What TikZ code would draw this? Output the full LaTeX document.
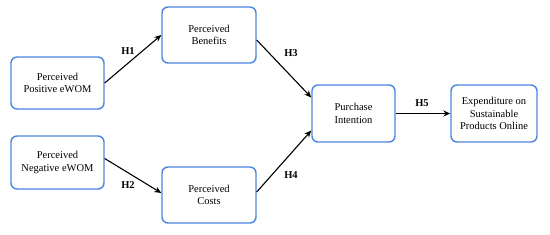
\documentclass[tikz,border=0pt]{standalone}
\usepackage{fontspec}
\setmainfont{Liberation Serif}
\usetikzlibrary{arrows.meta}
\definecolor{boxblue}{RGB}{74,134,222}
\begin{document}
\begin{tikzpicture}[x=1pt,y=-1pt,
  box/.style={draw=boxblue,line width=1.4pt,rounded corners=6pt,align=center,font=\fontsize{10.5}{12.5}\selectfont,inner sep=0pt},
  conn/.style={-{Stealth[length=7pt,width=6pt]},line width=1.1pt},
  hlab/.style={font=\bfseries\fontsize{10.5}{12}\selectfont}]
\useasboundingbox (0,0) rectangle (550,235);
\node[box,minimum width=93pt,minimum height=52pt] (pos) at (57.5,83) {Perceived\\Positive eWOM};
\node[box,minimum width=93pt,minimum height=53pt] (neg) at (57.5,162.5) {Perceived\\Negative eWOM};
\node[box,minimum width=94pt,minimum height=56pt] (ben) at (209,35) {Perceived\\Benefits};
\node[box,minimum width=94pt,minimum height=56pt] (cost) at (209,195) {Perceived\\Costs};
\node[box,minimum width=83pt,minimum height=57pt] (pi) at (353.5,113.5) {Purchase\\Intention};
\node[box,minimum width=86pt,minimum height=57pt] (exp) at (494,113.5) {Expenditure on\\Sustainable\\Products Online};
\draw[conn] (pos.east) -- (ben.west);
\draw[conn] ([yshift=4pt]neg.east) -- ([yshift=2pt]cost.west);
\draw[conn] ([yshift=-5pt]ben.east) -- ([yshift=16pt]pi.west);
\draw[conn] ([yshift=3pt]cost.east) -- ([yshift=-17pt]pi.west);
\draw[conn] (pi.east) -- (exp.west);
\node[hlab] (h1) at (128,51) {H1};
\node[hlab] (h2) at (128,185) {H2};
\node[hlab] (h3) at (291,53) {H3};
\node[hlab] (h4) at (291,175) {H4};
\node[hlab] (h5) at (422,103) {H5};
\end{tikzpicture}
\end{document}
